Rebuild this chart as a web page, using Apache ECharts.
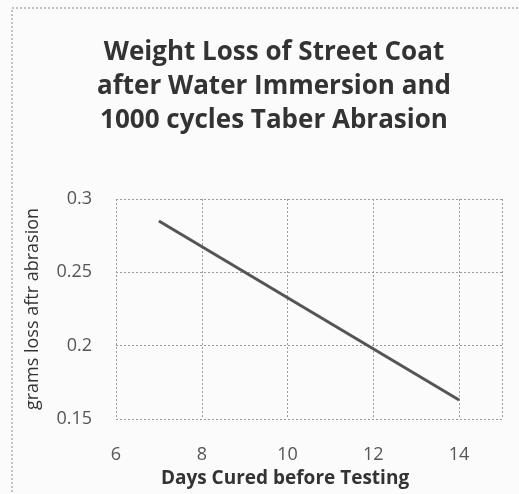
<!DOCTYPE html>
<html>
<head>
<meta charset="utf-8">
<script src="https://cdn.jsdelivr.net/npm/echarts@6/dist/echarts.min.js"></script>
<style>
  html, body { margin: 0; padding: 0; background: #fbfbfb; }
  #chart { width: 519px; height: 494px; }
</style>
</head>
<body>
<div id="chart"></div>
<script>
// data
var days = [7, 14];
var gramsLoss = [0.285, 0.163];
var xTicks = [6, 8, 10, 12, 14];
var yTicks = [0.15, 0.2, 0.25, 0.3];

var lossChart = echarts.init(document.getElementById('chart'));

var dotted = { color: '#9a9a9a', type: [2, 2], width: 1 };

var option = {
  backgroundColor: '#fbfbfb',
  animation: false,
  title: {
    text: 'Weight Loss of Street Coat\nafter Water Immersion and\n1000 cycles Taber Abrasion',
    left: 269,
    top: 31,
    textAlign: 'center',
    textStyle: {
      fontFamily: 'Open Sans',
      fontWeight: 'bold',
      fontSize: 26,
      lineHeight: 34,
      color: '#333'
    }
  },
  graphic: [{
    type: 'rect',
    shape: { x: 12, y: 8, width: 520, height: 500 },
    style: { fill: 'none', stroke: '#888', lineDash: [2, 2], lineWidth: 1 },
    silent: true
  }],
  grid: { left: 116, right: 17, top: 199, bottom: 75 },
  xAxis: {
    type: 'value',
    min: 6,
    max: 15,
    interval: 2,
    name: 'Days Cured before Testing',
    nameLocation: 'middle',
    nameGap: 50,
    nameTextStyle: {
      fontFamily: 'Open Sans', fontWeight: 'bold', fontSize: 19, color: '#333',
      padding: [0, 48, 0, 0]
    },
    axisLine: { show: false },
    axisTick: { show: false },
    axisLabel: {
      fontFamily: 'Open Sans', fontSize: 18, color: '#555', margin: 27,
      showMaxLabel: false,
      formatter: function (v) { return xTicks.indexOf(v) >= 0 ? String(v) : ''; }
    },
    splitLine: { show: true, lineStyle: dotted }
  },
  yAxis: {
    type: 'value',
    min: yTicks[0],
    max: yTicks[yTicks.length - 1],
    interval: 0.05,
    name: 'grams loss aftr abrasion',
    nameLocation: 'middle',
    nameGap: 74,
    nameTextStyle: { fontFamily: 'Open Sans', fontSize: 18, color: '#333' },
    axisLine: { show: false },
    axisTick: { show: false },
    axisLabel: { fontFamily: 'Open Sans', fontSize: 18, color: '#555', margin: 24 },
    splitLine: { show: true, lineStyle: dotted }
  },
  series: [{
    type: 'line',
    data: days.map(function (d, i) { return [d, gramsLoss[i]]; }),
    showSymbol: false,
    lineStyle: { color: '#555', width: 3 }
  }]
};

lossChart.setOption(option);
</script>
</body>
</html>
